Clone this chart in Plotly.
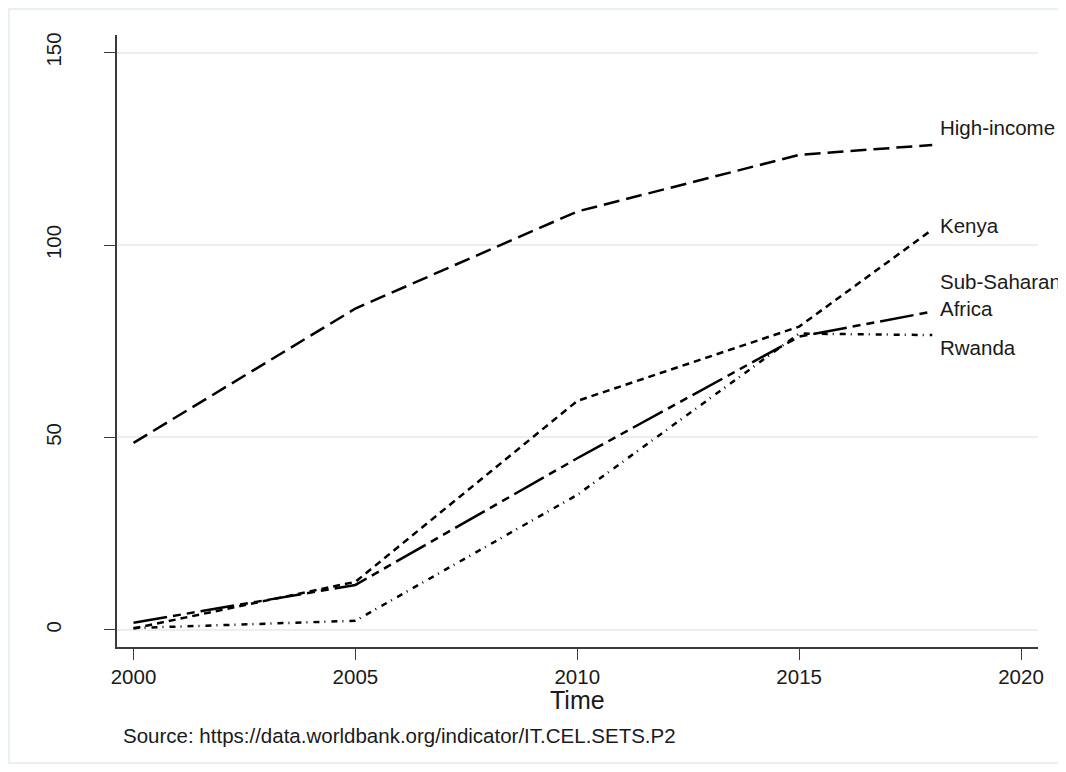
import plotly.graph_objects as go

# ---- data ----
years = [2000, 2005, 2010, 2015, 2018]
high_income = [48.6, 83.5, 108.7, 123.4, 126.0]
kenya = [0.4, 12.5, 59.5, 78.8, 104.0]
sub_saharan = [1.9, 11.7, 44.6, 76.2, 82.7]
rwanda = [0.5, 2.4, 35.1, 77.0, 76.6]

series_names = ["High-income", "Kenya", "Sub-Saharan<br>Africa", "Rwanda"]
series_values = [high_income, kenya, sub_saharan, rwanda]

x_ticks = [2000, 2005, 2010, 2015, 2020]
y_ticks = [0, 50, 100, 150]

x_title = "Time"
source_note = "Source: https://data.worldbank.org/indicator/IT.CEL.SETS.P2"

# ---- styles ----
dashes = ["16px,7px", "7px,5px", "34px,6px,8px,6px,8px,6px", "6px,5px,1px,6px"]
label_yshift = [17, 4, 17, -12]
FONT = "Liberation Sans, Arial, sans-serif"
INK = "#1a1a1a"
AXIS = "#3a3a3a"
GRID = "#e8f0f2"

W, H = 1058, 756
ML, MR, MT, MB = 109, 28, 27, 117
PW, PH = W - ML - MR, H - MT - MB

fig = go.Figure()
for name, vals, dash in zip(series_names, series_values, dashes):
    fig.add_trace(go.Scatter(
        x=years, y=vals, mode="lines", name=name,
        line=dict(color="#000000", width=2.5, dash=dash),
        showlegend=False, hoverinfo="x+y+name",
    ))

# end-of-line labels
for name, vals, ys in zip(series_names, series_values, label_yshift):
    fig.add_annotation(
        x=years[-1], y=vals[-1], xref="x", yref="y",
        text=name, showarrow=False, xanchor="left", yanchor="middle",
        align="left", xshift=6, yshift=ys,
        font=dict(family=FONT, size=20.5, color=INK),
    )

# axis title and source note
fig.add_annotation(
    x=0.4995, y=-0.087, xref="paper", yref="paper",
    text=x_title, showarrow=False, xanchor="center", yanchor="middle",
    font=dict(family=FONT, size=25, color=INK),
)
fig.add_annotation(
    x=0.004, y=-0.144, xref="paper", yref="paper",
    text=source_note, showarrow=False, xanchor="left", yanchor="middle",
    font=dict(family=FONT, size=20.5, color=INK),
)

# outer graph-region frame along the edge of the figure
fig.add_shape(
    type="rect", xref="paper", yref="paper",
    x0=-(ML - 1) / PW, x1=1 + (MR - 4) / PW,
    y0=-(MB - 1) / PH, y1=1 + (MT - 1) / PH,
    line=dict(color="#e3ebee", width=1.5), fillcolor="rgba(0,0,0,0)",
    layer="below",
)

fig.update_layout(
    width=W, height=H,
    margin=dict(l=ML, r=MR, t=MT, b=MB),
    paper_bgcolor="white", plot_bgcolor="white",
    font=dict(family=FONT, size=20.5, color=INK),
    xaxis=dict(
        range=[1999.628, 2020.383], tickvals=x_ticks,
        ticks="outside", ticklen=11, tickwidth=1.3, tickcolor=AXIS,
        showline=True, linecolor=AXIS, linewidth=1.5,
        showgrid=False, zeroline=False,
        tickfont=dict(family=FONT, size=20.5, color=INK),
    ),
    yaxis=dict(
        range=[-4.42, 154.55], tickvals=y_ticks, tickangle=-90,
        ticks="outside", ticklen=11, tickwidth=1.3, tickcolor=AXIS,
        showline=True, linecolor=AXIS, linewidth=1.5,
        showgrid=True, gridcolor=GRID, gridwidth=1.5,
        zeroline=False, ticklabelstandoff=35,
        tickfont=dict(family=FONT, size=20.5, color=INK),
    ),
)

fig.write_html("out.html")
